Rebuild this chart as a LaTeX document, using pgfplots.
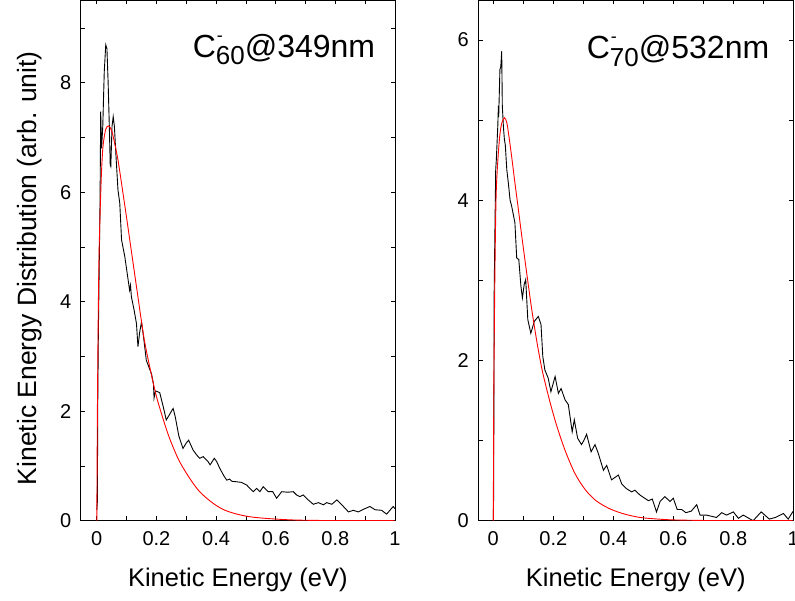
\documentclass[border=0pt]{standalone}
\usepackage{fontspec}
\setmainfont{Liberation Sans}
\usepackage{pgfplots}
\pgfplotsset{compat=1.18}

\pgfplotsset{
  kedpanel/.style={
    scale only axis,
    height=520.7pt,
    xmax=1, ymin=0,
    xtick={0,0.2,0.4,0.6,0.8,1},
    minor xtick={0.1,0.3,0.5,0.7,0.9},
    tick align=inside,
    major tick length=4.5pt,
    minor tick length=4.5pt,
    tick style={black, line width=0.8pt},
    axis line style={line width=0.9pt},
    /pgf/number format/assume math mode=true,
    tick label style={font=\fontsize{20}{20}\selectfont},
    xticklabel style={yshift=-7.5pt},
    yticklabel style={xshift=-6pt},
    xlabel style={font=\fontsize{25.5}{25.5}\selectfont,
      at={(axis description cs:0.5,0)}, anchor=base, yshift=-66pt},
    ylabel style={font=\fontsize{26.5}{26.5}\selectfont},
    xlabel={Kinetic Energy (eV)},
  },
  expt/.style={black, line width=0.9pt, no marks},
  fitc/.style={red, line width=0.9pt, no marks, smooth},
}

\begin{document}
\begin{tikzpicture}
\path[use as bounding box] (0,0) rectangle (795pt,600pt);

% C60- at 349 nm
\begin{axis}[kedpanel,
  at={(80.7pt,79.3pt)}, anchor=south west,
  width=314.3pt,
  xmin=-0.054, ymax=9.51,
  ytick={0,2,4,6,8},
  minor ytick={1,3,5,7,9},
  ylabel={Kinetic Energy Distribution (arb. unit)},
  ylabel style={at={(axis description cs:-0.142,0.485)}, anchor=base},
]
\addplot[expt] coordinates {
(0.000,0.20) (0.002,0.35) (0.003,2.00) (0.005,3.30) (0.008,4.60)
(0.011,5.90) (0.013,7.47) (0.016,6.80) (0.020,7.20) (0.025,8.20)
(0.030,8.69) (0.034,8.62) (0.038,8.00) (0.042,7.20) (0.045,6.50)
(0.047,6.47) (0.051,7.20) (0.055,7.38) (0.059,7.20) (0.065,6.60)
(0.071,6.04) (0.077,5.80) (0.083,5.13) (0.094,4.82) (0.105,4.40)
(0.110,4.21) (0.113,4.30) (0.116,4.09) (0.125,3.85) (0.133,3.60)
(0.138,3.18) (0.144,3.45) (0.150,3.63) (0.158,3.30) (0.166,2.93)
(0.175,2.80) (0.183,2.69) (0.190,2.50) (0.192,2.24) (0.197,2.37)
(0.211,2.34) (0.222,2.10) (0.233,1.84) (0.245,1.95) (0.256,2.05)
(0.263,1.90) (0.275,1.55) (0.289,1.32) (0.300,1.42) (0.308,1.47)
(0.323,1.29) (0.335,1.20) (0.345,1.14) (0.357,1.17) (0.373,1.08)
(0.380,1.02) (0.394,1.14) (0.402,1.08) (0.413,0.95) (0.425,0.83)
(0.436,0.74) (0.445,0.76) (0.453,0.72) (0.470,0.71) (0.485,0.70)
(0.503,0.65) (0.515,0.58) (0.525,0.53) (0.536,0.59) (0.547,0.53)
(0.558,0.62) (0.575,0.53) (0.590,0.53) (0.603,0.41) (0.620,0.53)
(0.640,0.52) (0.659,0.53) (0.670,0.47) (0.681,0.44) (0.692,0.47)
(0.709,0.38) (0.726,0.30) (0.743,0.33) (0.760,0.29) (0.771,0.33)
(0.788,0.30) (0.805,0.38) (0.820,0.30) (0.844,0.16) (0.860,0.19)
(0.877,0.16) (0.899,0.22) (0.916,0.26) (0.933,0.20) (0.955,0.19)
(0.972,0.12) (0.994,0.26) (1.000,0.22)
};
\addplot[fitc] coordinates {
(0.000,0.00) (0.001,1.00) (0.002,2.00) (0.004,3.30) (0.006,4.30)
(0.008,5.00) (0.011,5.60) (0.013,5.95) (0.016,6.40) (0.021,6.85)
(0.030,7.15) (0.040,7.21) (0.050,7.12) (0.060,6.89) (0.070,6.62)
(0.080,6.27) (0.090,5.90) (0.100,5.53) (0.110,5.15) (0.120,4.77)
(0.130,4.39) (0.140,4.01) (0.150,3.63) (0.160,3.28) (0.172,2.95)
(0.189,2.52) (0.205,2.17) (0.239,1.58) (0.273,1.13) (0.306,0.82)
(0.340,0.56) (0.373,0.39) (0.400,0.28) (0.430,0.19) (0.470,0.12)
(0.510,0.075) (0.550,0.05) (0.600,0.03) (0.650,0.015) (0.700,0.008)
(0.800,0.002) (1.000,0.000)
};
\node[anchor=base west, inner sep=0pt, font=\fontsize{32}{32}\selectfont]
  at (rel axis cs:0.356,0.890)
  {C\rlap{\hspace{1pt}\raisebox{15.4pt}{\fontsize{18}{18}\selectfont -}}\raisebox{-7.7pt}{\fontsize{26}{26}\selectfont 60}@349nm};
\end{axis}

% C70- at 532 nm
\begin{axis}[kedpanel,
  at={(478.3pt,79.3pt)}, anchor=south west,
  width=315pt,
  xmin=-0.05, ymax=6.5,
  ytick={0,2,4,6},
  minor ytick={1,3,5},
]
\addplot[expt] coordinates {
(0.000,0.00) (0.001,0.30) (0.002,1.50) (0.003,2.90) (0.006,3.80)
(0.008,4.38) (0.010,4.50) (0.015,4.93) (0.017,5.18) (0.018,5.04)
(0.022,5.63) (0.025,5.67) (0.028,5.86) (0.030,5.18) (0.034,4.90)
(0.037,4.76) (0.040,4.69) (0.045,4.38) (0.050,4.22) (0.056,4.00)
(0.061,3.93) (0.072,3.72) (0.078,3.28) (0.085,3.26) (0.092,2.93)
(0.097,2.78) (0.103,2.95) (0.108,3.01) (0.115,2.51) (0.125,2.34)
(0.137,2.49) (0.150,2.55) (0.159,2.45) (0.165,2.05) (0.172,1.88)
(0.183,1.78) (0.192,1.61) (0.206,1.80) (0.217,1.59) (0.226,1.65)
(0.239,1.51) (0.250,1.45) (0.263,1.11) (0.270,1.26) (0.281,1.03)
(0.294,0.95) (0.303,1.01) (0.311,1.08) (0.326,0.86) (0.339,0.95)
(0.350,0.84) (0.367,0.63) (0.378,0.69) (0.394,0.51) (0.417,0.57)
(0.428,0.46) (0.444,0.40) (0.461,0.36) (0.472,0.38) (0.489,0.32)
(0.505,0.28) (0.517,0.25) (0.530,0.27) (0.544,0.11) (0.556,0.24)
(0.572,0.30) (0.589,0.24) (0.600,0.28) (0.613,0.14) (0.628,0.14)
(0.642,0.10) (0.660,0.12) (0.678,0.20) (0.689,0.07) (0.711,0.07)
(0.744,0.04) (0.761,0.10) (0.778,0.07) (0.800,0.11) (0.817,0.03)
(0.833,0.07) (0.866,0.00) (0.893,0.11) (0.920,0.02) (0.940,0.04)
(0.967,0.09) (0.983,0.02) (0.998,0.11) (1.000,0.10)
};
\addplot[fitc] coordinates {
(0.000,0.00) (0.001,1.00) (0.002,1.80) (0.004,2.60) (0.006,3.30)
(0.009,4.00) (0.012,4.30) (0.017,4.60) (0.022,4.82) (0.028,4.96)
(0.037,5.03) (0.045,4.97) (0.052,4.80) (0.061,4.55) (0.072,4.22)
(0.081,3.96) (0.095,3.55) (0.111,3.10) (0.128,2.64) (0.145,2.24)
(0.156,2.01) (0.167,1.81) (0.189,1.48) (0.211,1.19) (0.239,0.88)
(0.272,0.59) (0.306,0.39) (0.339,0.26) (0.372,0.18) (0.400,0.13)
(0.440,0.08) (0.490,0.04) (0.550,0.02) (0.600,0.01) (0.700,0.003)
(0.800,0.001) (1.000,0.000)
};
\node[anchor=base west, inner sep=0pt, font=\fontsize{32}{32}\selectfont]
  at (rel axis cs:0.344,0.888)
  {C\rlap{\hspace{1pt}\raisebox{15.4pt}{\fontsize{18}{18}\selectfont -}}\raisebox{-7.7pt}{\fontsize{26}{26}\selectfont 70}@532nm};
\end{axis}
\end{tikzpicture}
\end{document}
